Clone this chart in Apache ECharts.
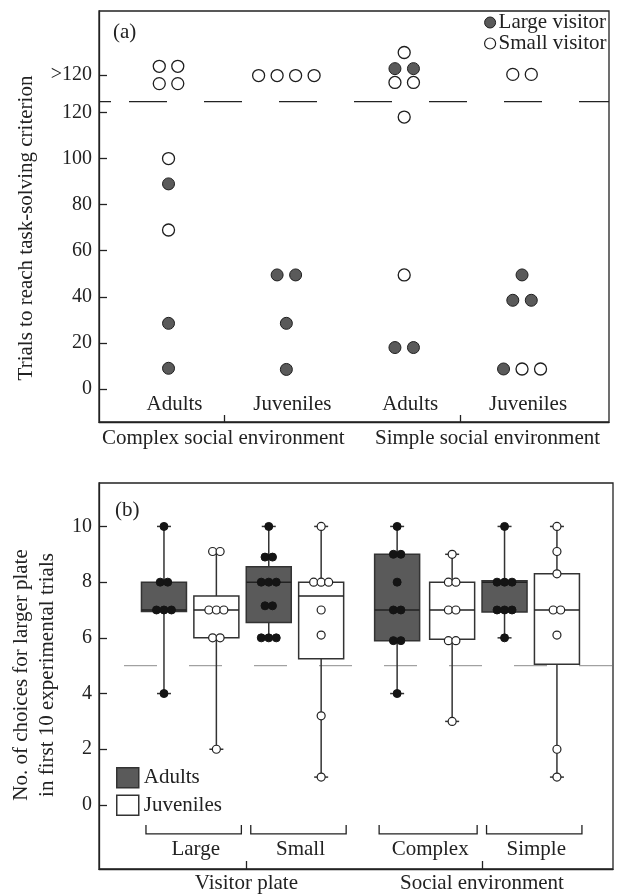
<!DOCTYPE html>
<html><head><meta charset="utf-8">
<script src="https://cdn.jsdelivr.net/npm/echarts@6/dist/echarts.min.js"></script>
<style>html,body{margin:0;padding:0;background:#fff}#c{width:619px;height:894px}</style>
</head><body><div id="c"></div>
<script>
// ---------- Panel (a) data ----------
const aSubGroups = ['Adults', 'Juveniles', 'Adults', 'Juveniles'];
const aEnvLabels = ['Complex social environment', 'Simple social environment'];
const aYTicks = [0, 20, 40, 60, 80, 100, 120, 136.2];
const aYTickLabels = ['0', '20', '40', '60', '80', '100', '120', '>120'];
const aCriterion = 124.7; // dashed line separating ">120"
// trials to criterion per group (values above the dashed line = ">120")
const aLargeVisitor = [
  [89, 28.5, 9],
  [49.5, 49.5, 28.5, 8.5],
  [139, 139, 18, 18],
  [49.5, 38.5, 38.5, 8.7]
];
const aSmallVisitor = [
  [140, 140, 132.5, 132.5, 100, 69],
  [136, 136, 136, 136],
  [146, 133, 133, 118, 49.5],
  [136.5, 136.5, 8.7, 8.7]
];

// ---------- Panel (b) data ----------
const bBoxNames = ['Large Adults', 'Large Juveniles', 'Small Adults', 'Small Juveniles',
  'Complex Adults', 'Complex Juveniles', 'Simple Adults', 'Simple Juveniles'];
const bAgeClass = ['Adults', 'Juveniles', 'Adults', 'Juveniles', 'Adults', 'Juveniles', 'Adults', 'Juveniles'];
// [min, Q1, median, Q3, max]
const bBoxes = [
  [4, 6.95, 7, 8, 10],
  [2, 6, 7, 7.5, 9.1],
  [6, 6.55, 8, 8.55, 10],
  [1, 5.25, 7.5, 8, 10],
  [4, 5.9, 7, 9, 10],
  [3, 5.95, 7, 8, 9],
  [6, 6.93, 8, 8.05, 10],
  [1, 5.05, 7, 8.3, 10]
];
const bPoints = [
  [10, 8, 8, 7, 7, 7, 4],
  [9.1, 9.1, 7, 7, 7, 6, 6, 2],
  [10, 8.9, 8.9, 8, 8, 8, 7.15, 7.15, 6, 6, 6],
  [10, 8, 8, 8, 7, 6.1, 3.2, 1],
  [10, 9, 9, 8, 7, 7, 5.9, 5.9, 4],
  [9, 8, 8, 7, 7, 5.9, 5.9, 3],
  [10, 8, 8, 8, 7, 7, 7, 6],
  [10, 9.1, 8.3, 7, 7, 6.1, 2, 1]
];
const bChance = 5;
const bYTicks = [0, 2, 4, 6, 8, 10];
const bGroupLabels = ['Large', 'Small', 'Complex', 'Simple'];
const bFactorLabels = ['Visitor plate', 'Social environment'];

// ---------- layout ----------
const aPos = [1, 2, 3, 4];
const aEnvTickPos = [1.471, 3.474];
const aEnvLabelPos = [1.465, 3.707];
const bPos = [1, 2, 3, 4, 5.45, 6.5, 7.5, 8.5];
const bBracketIdx = [[0, 1], [2, 3], [4, 5], [6, 7]];
const bFactorPos = [2.574, 7.069];

const FONT = '"Liberation Serif", "Times New Roman", serif';
const INK = '#222';
const DARK = '#5a5a5a';

function swarm(lists) {
  const all = [];
  lists.forEach((arr, t) => arr.forEach(v => all.push({ v, t })));
  const counts = {}, seen = {};
  all.forEach(p => counts[p.v] = (counts[p.v] || 0) + 1);
  const out = lists.map(() => []);
  all.forEach(p => {
    const k = seen[p.v] || 0; seen[p.v] = k + 1;
    out[p.t].push([p.v, k - (counts[p.v] - 1) / 2]);
  });
  return out;
}

const aLargeData = [], aSmallData = [];
aPos.forEach((pos, g) => {
  const [L, S] = swarm([aLargeVisitor[g], aSmallVisitor[g]]);
  L.forEach(([v, s]) => aLargeData.push([pos, v, s]));
  S.forEach(([v, s]) => aSmallData.push([pos, v, s]));
});
const bAdultPts = [], bJuvPts = [];
bPos.forEach((pos, i) => {
  const [P] = swarm([bPoints[i]]);
  P.forEach(([v, s]) => (bAgeClass[i] === 'Adults' ? bAdultPts : bJuvPts).push([pos, v, s]));
});
const bAdultBoxes = [], bJuvBoxes = [];
bPos.forEach((pos, i) => (bAgeClass[i] === 'Adults' ? bAdultBoxes : bJuvBoxes).push([pos].concat(bBoxes[i])));

function dotRender(step, r, fill, stroke, lw) {
  return function (params, api) {
    const p = api.coord([api.value(0), api.value(1)]);
    return { type: 'circle', shape: { cx: p[0] + api.value(2) * step, cy: p[1], r: r },
      style: { fill: fill, stroke: stroke, lineWidth: lw } };
  };
}
function boxRender(fill) {
  return function (params, api) {
    const x = api.coord([api.value(0), 0])[0];
    const y = i => api.coord([api.value(0), api.value(i)])[1];
    const yMin = y(1), yQ1 = y(2), yMed = y(3), yQ3 = y(4), yMax = y(5);
    const hw = 22.5, cap = 7;
    const ls = { stroke: '#333', lineWidth: 1.5 };
    return { type: 'group', children: [
      { type: 'line', shape: { x1: x, y1: yQ3, x2: x, y2: yMax }, style: ls },
      { type: 'line', shape: { x1: x, y1: yQ1, x2: x, y2: yMin }, style: ls },
      { type: 'line', shape: { x1: x - cap, y1: yMax, x2: x + cap, y2: yMax }, style: ls },
      { type: 'line', shape: { x1: x - cap, y1: yMin, x2: x + cap, y2: yMin }, style: ls },
      { type: 'rect', shape: { x: x - hw, y: yQ3, width: 2 * hw, height: yQ1 - yQ3 },
        style: { fill: fill, stroke: '#333', lineWidth: 1.5 } },
      { type: 'line', shape: { x1: x - hw, y1: yMed, x2: x + hw, y2: yMed }, style: { stroke: INK, lineWidth: 1.5 } }
    ] };
  };
}
function hLineRender(color, lw, dash, offset) {
  return function (params, api) {
    const cs = params.coordSys;
    const y = api.coord([0, api.value(0)])[1];
    return { type: 'line', shape: { x1: cs.x, y1: y, x2: cs.x + cs.width, y2: y },
      style: { stroke: color, lineWidth: lw, lineDash: dash, lineDashOffset: offset } };
  };
}

const chart = echarts.init(document.getElementById('c'));
const axisLine = { show: true, onZero: false, lineStyle: { color: INK, width: 1.3 } };
const labelStyle = { color: INK, fontFamily: FONT, fontSize: 20 };

chart.setOption({
  animation: false,
  grid: [
    { left: 99, top: 11, width: 510, height: 411, show: true, borderColor: INK, borderWidth: 1.3 },
    { left: 99, top: 483, width: 514, height: 388, show: true, borderColor: INK, borderWidth: 1.3 }
  ],
  xAxis: [
    { gridIndex: 0, type: 'value', min: 0.41, max: 4.738, axisLine, splitLine: { show: false },
      axisTick: { show: true, inside: true, length: 7, customValues: aEnvTickPos, lineStyle: { color: INK, width: 1.3 } },
      axisLabel: { show: true, customValues: aEnvLabelPos, margin: 6, ...labelStyle, fontSize: 21,
        formatter: (v) => aEnvLabels[aEnvLabelPos.findIndex(p => Math.abs(p - v) < 1e-6)] } },
    { gridIndex: 1, type: 'value', min: -0.24, max: 9.57, axisLine, splitLine: { show: false },
      axisTick: { show: true, inside: true, length: 8, customValues: bFactorPos, lineStyle: { color: INK, width: 1.3 } },
      axisLabel: { show: true, customValues: bFactorPos, margin: 4, ...labelStyle, fontSize: 21,
        formatter: (v) => bFactorLabels[bFactorPos.findIndex(p => Math.abs(p - v) < 1e-6)] } }
  ],
  yAxis: [
    { gridIndex: 0, type: 'value', min: -14.3, max: 164, axisLine, splitLine: { show: false },
      axisTick: { show: true, inside: true, length: 8, customValues: aYTicks, lineStyle: { color: INK, width: 1.3 } },
      axisLabel: { customValues: aYTicks, margin: 7, ...labelStyle,
        formatter: (v) => aYTickLabels[aYTicks.findIndex(p => Math.abs(p - v) < 1e-6)] } },
    { gridIndex: 1, type: 'value', min: -2.3, max: 11.56, axisLine, splitLine: { show: false },
      axisTick: { show: true, inside: true, length: 8, customValues: bYTicks, lineStyle: { color: INK, width: 1.3 } },
      axisLabel: { customValues: bYTicks, margin: 7, ...labelStyle } }
  ],
  legend: [
    { left: 484, top: 12, orient: 'vertical', itemWidth: 11, itemHeight: 11, itemGap: 0, padding: 0,
      selectedMode: false, textStyle: { color: INK, fontFamily: FONT, fontSize: 21, lineHeight: 20, padding: [0, 0, 0, -2] },
      data: [
        { name: 'Large visitor', icon: 'circle', itemStyle: { color: DARK, borderColor: '#1e1e1e', borderWidth: 1 } },
        { name: 'Small visitor', icon: 'circle', itemStyle: { color: '#fff', borderColor: '#1e1e1e', borderWidth: 1.2 } }
      ] },
    { left: 116, top: 767, orient: 'vertical', itemWidth: 22, itemHeight: 20, itemGap: 6, padding: 0,
      selectedMode: false, textStyle: { color: INK, fontFamily: FONT, fontSize: 21 },
      data: [
        { name: 'Adults', icon: 'rect', itemStyle: { color: DARK, borderColor: '#333', borderWidth: 1.5 } },
        { name: 'Juveniles', icon: 'rect', itemStyle: { color: '#fff', borderColor: '#333', borderWidth: 1.5 } }
      ] }
  ],
  graphic: [
    { type: 'text', x: 113, y: 32, style: { text: '(a)', fill: INK, font: '21px ' + FONT, textAlign: 'left', textVerticalAlign: 'middle' } },
    { type: 'text', x: 115, y: 510, style: { text: '(b)', fill: INK, font: '21px ' + FONT, textAlign: 'left', textVerticalAlign: 'middle' } },
    { type: 'text', x: 26, y: 228, rotation: Math.PI / 2,
      style: { text: 'Trials to reach task-solving criterion', fill: INK, font: '21px ' + FONT, textAlign: 'center', textVerticalAlign: 'middle' } },
    { type: 'text', x: 34, y: 675, rotation: Math.PI / 2,
      style: { text: 'No. of choices for larger plate\nin first 10 experimental trials', fill: INK, font: '21px ' + FONT,
        lineHeight: 26, textAlign: 'center', textVerticalAlign: 'middle' } }
  ],
  series: [
    { type: 'custom', name: 'criterion', xAxisIndex: 0, yAxisIndex: 0, silent: true, data: [[aCriterion]],
      renderItem: hLineRender(INK, 1.3, [12, 18, 38, 37, 38, 37, 38, 37, 38, 37, 38, 37, 38, 37, 38, 37], 0) },
    { type: 'custom', name: 'subgroups', xAxisIndex: 0, yAxisIndex: 0, silent: true,
      data: aPos.map((p, i) => [p, i]),
      renderItem: (params, api) => {
        const p = api.coord([api.value(0), 0]);
        return { type: 'text', x: p[0] + 6, y: p[1] + 15,
          style: { text: aSubGroups[api.value(1)], fill: INK, font: '21px ' + FONT, textAlign: 'center', textVerticalAlign: 'middle' } };
      } },
    { type: 'custom', name: 'Large visitor', xAxisIndex: 0, yAxisIndex: 0, data: aLargeData, z: 5,
      itemStyle: { color: DARK }, renderItem: dotRender(18.5, 6, DARK, '#1e1e1e', 1) },
    { type: 'custom', name: 'Small visitor', xAxisIndex: 0, yAxisIndex: 0, data: aSmallData, z: 5,
      itemStyle: { color: '#fff' }, renderItem: dotRender(18.5, 6, '#fff', '#1e1e1e', 1.3) },

    { type: 'custom', name: 'chance', xAxisIndex: 1, yAxisIndex: 1, silent: true, data: [[bChance]], z: 1,
      renderItem: hLineRender('#8c8c8c', 1, [33, 32], 40) },
    { type: 'custom', name: 'Adults', xAxisIndex: 1, yAxisIndex: 1, data: bAdultBoxes, z: 2,
      itemStyle: { color: DARK }, renderItem: boxRender(DARK) },
    { type: 'custom', name: 'Juveniles', xAxisIndex: 1, yAxisIndex: 1, data: bJuvBoxes, z: 2,
      itemStyle: { color: '#fff' }, renderItem: boxRender('#fff') },
    { type: 'custom', name: 'adult points', xAxisIndex: 1, yAxisIndex: 1, data: bAdultPts, z: 6,
      renderItem: dotRender(7.5, 4, '#141414', '#141414', 1) },
    { type: 'custom', name: 'juvenile points', xAxisIndex: 1, yAxisIndex: 1, data: bJuvPts, z: 6,
      renderItem: dotRender(7.5, 4, '#fff', INK, 1.2) },
    { type: 'custom', name: 'brackets', xAxisIndex: 1, yAxisIndex: 1, silent: true,
      data: bBracketIdx.map((ab, i) => [bPos[ab[0]], bPos[ab[1]], i]),
      renderItem: (params, api) => {
        const y0 = api.coord([api.value(0), 0])[1];
        const l = api.coord([api.value(0), 0])[0] - 18;
        const r = api.coord([api.value(1), 0])[0] + 25;
        const top = y0 + 20, bot = y0 + 29;
        return { type: 'group', children: [
          { type: 'polyline', shape: { points: [[l, top], [l, bot], [r, bot], [r, top]] },
            style: { stroke: INK, lineWidth: 1.3, fill: null } },
          { type: 'text', x: (l + r) / 2 + 2, y: y0 + 45,
            style: { text: bGroupLabels[api.value(2)], fill: INK, font: '21px ' + FONT, textAlign: 'center', textVerticalAlign: 'middle' } }
        ] };
      } }
  ]
});
</script>
</body></html>
